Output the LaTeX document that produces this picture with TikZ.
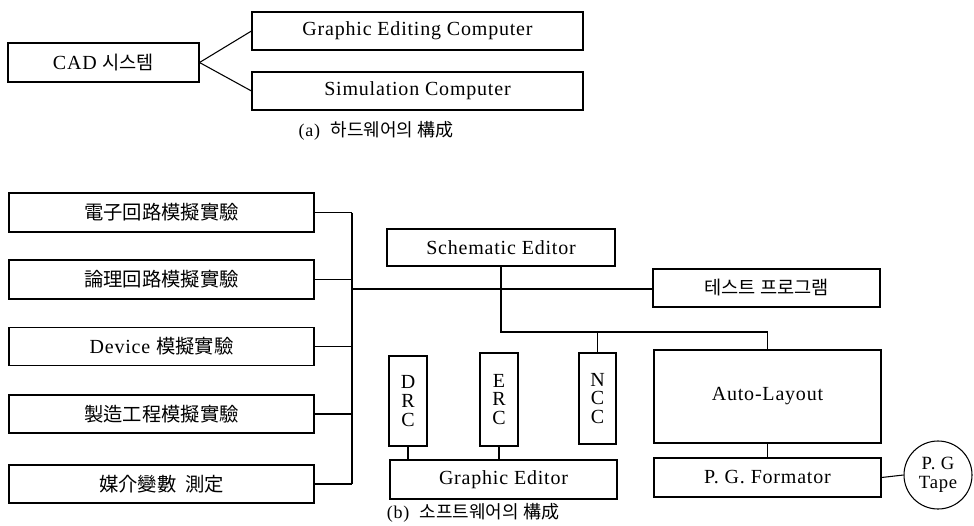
\documentclass[tikz,border=0pt]{standalone}
\usepackage{fontspec}
\setmainfont{Liberation Serif}[LetterSpace=4]
\newfontfamily\kr{Noto Sans CJK KR}

\begin{document}
\begin{tikzpicture}[x=0.75pt,y=0.75pt,yscale=-1,xscale=1,line width=0.8pt,
  box/.style={draw,rectangle,inner sep=0pt,font=\fontsize{15}{17}\selectfont},
  sz/.style 2 args={minimum width=#1*0.75pt,minimum height=#2*0.75pt},
  vbox/.style={box,align=center,font=\fontsize{15}{14.2}\selectfont},
  capt/.style={inner sep=0.75pt,font=\fontsize{13.5}{16}\selectfont}]
\useasboundingbox (0,0) rectangle (974,525);

% (a) hardware
\node[box,sz={191}{39}] (cad) at (103.5,62.5) {CAD {\kr\fontsize{14}{16}\selectfont 시스템}};
\node[box,sz={331}{38}] (gec) at (417.5,31) {Graphic Editing Computer};
\node[box,sz={331}{38}] (sim) at (417.5,91) {Simulation Computer};
\draw (cad.east) -- (gec.west);
\draw (cad.east) -- (sim.west);
% Text Node
\node[capt] (capa) at (376,131) {(a)\ \ {\kr 하드웨어의 構成}};

% (b) software, left column
\node[box,sz={305}{39},font=\kr\fontsize{14.5}{17}\selectfont] (exp1) at (161.5,212.5) {電子回路模擬實驗};
\node[box,sz={305}{39},font=\kr\fontsize{14.5}{17}\selectfont] (exp2) at (161.5,279.5) {論理回路模擬實驗};
\node[box,sz={305}{38}] (exp3) at (161.5,346.5) {Device {\kr\fontsize{14.5}{17}\selectfont 模擬實驗}};
\node[box,sz={305}{38},font=\kr\fontsize{14.5}{17}\selectfont] (exp4) at (161.5,414) {製造工程模擬實驗};
\node[box,sz={305}{38},font=\kr\fontsize{14.5}{17}\selectfont] (exp5) at (161.5,484) {媒介變數\ \ 測定};
\coordinate (bus) at (352,289);
\draw (exp1.east) -- (exp1.east -| bus);
\draw (exp2.east) -- (exp2.east -| bus);
\draw (exp3.east) -- (exp3.east -| bus);
\draw (exp4.east) -- (exp4.east -| bus);
\draw (exp5.east) -- (exp5.east -| bus);
\draw (exp1.east -| bus) -- (exp5.east -| bus);

% editors
\node[box,sz={228}{37}] (sch) at (501,247.5) {Schematic Editor};
\node[box,sz={227}{38},font=\kr\fontsize{14}{17}\selectfont] (tst) at (766.5,288) {테스트 프로그램};
\draw (bus) -- (bus -| tst.west);
\coordinate (jn) at (501,332);
\node[box,sz={227}{93}] (auto) at (767.5,396.5) {Auto-Layout};
\node[box,sz={227}{39}] (pgf) at (767.5,477.5) {P. G. Formator};
\node[draw,circle,inner sep=0pt,minimum size=68*0.75pt,align=center,
  font=\fontsize{14}{14.5}\selectfont] (tape) at (938,475) {P. G\\Tape};
\draw (sch.south) -- (jn) -- (jn -| auto.north) -- (auto.north);
\draw (auto.south) -- (pgf.north);
\draw (pgf.east) -- (tape.west);

% checks
\node[vbox,sz={38}{90}] (drc) at (408,401) {D\\R\\C};
\node[vbox,sz={38}{93}] (erc) at (499,399.5) {E\\R\\C};
\node[vbox,sz={37}{91}] (ncc) at (597.5,398.5) {N\\C\\C};
\node[box,sz={227}{39}] (ged) at (503.5,479.5) {Graphic Editor};
\draw (ncc.north) -- (ncc.north |- jn);
\draw (drc.south) -- (drc.south |- ged.north);
\draw (erc.south) -- (erc.south |- ged.north);
% Text Node
\node[capt] (capb) at (473,513) {(b)\ \ {\kr 소프트웨어의 構成}};

\end{tikzpicture}
\end{document}
